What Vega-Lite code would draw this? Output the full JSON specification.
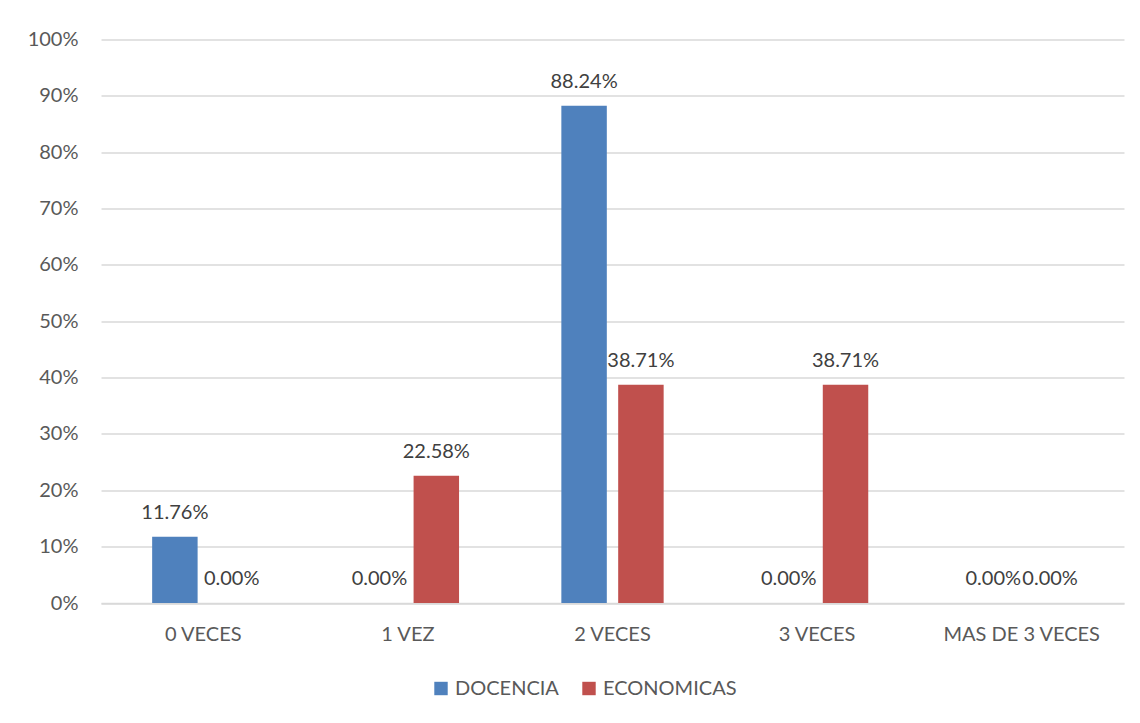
{
  "$schema": "https://vega.github.io/schema/vega-lite/v6.json",
  "autosize": "none",
  "width": 1023,
  "height": 563.5,
  "padding": {"left": 101, "top": 39.5, "right": 16, "bottom": 120},
  "background": "white",
  "config": {
    "font": "Lato",
    "view": {"stroke": null},
    "axis": {"labelFont": "Lato", "labelColor": "#595959", "labelFontSize": 20}
  },
  "data": {
    "values": [
      {"cat": "0 VECES", "serie": "DOCENCIA", "pct": 0.1176},
      {"cat": "0 VECES", "serie": "ECONOMICAS", "pct": 0.0},
      {"cat": "1 VEZ", "serie": "DOCENCIA", "pct": 0.0},
      {"cat": "1 VEZ", "serie": "ECONOMICAS", "pct": 0.2258},
      {"cat": "2 VECES", "serie": "DOCENCIA", "pct": 0.8824},
      {"cat": "2 VECES", "serie": "ECONOMICAS", "pct": 0.3871},
      {"cat": "3 VECES", "serie": "DOCENCIA", "pct": 0.0},
      {"cat": "3 VECES", "serie": "ECONOMICAS", "pct": 0.3871},
      {"cat": "MAS DE 3 VECES", "serie": "DOCENCIA", "pct": 0.0},
      {"cat": "MAS DE 3 VECES", "serie": "ECONOMICAS", "pct": 0.0}
    ]
  },
  "encoding": {
    "x": {
      "field": "cat",
      "type": "nominal",
      "sort": null,
      "scale": {"paddingInner": 0.5, "paddingOuter": 0.25},
      "axis": {
        "title": null,
        "labelAngle": 0,
        "labelPadding": 21,
        "labelOverlap": false,
        "ticks": false,
        "domain": true,
        "domainColor": "#D9D9D9",
        "domainWidth": 1.5
      }
    },
    "xOffset": {
      "field": "serie",
      "type": "nominal",
      "scale": {"paddingInner": 0.2, "paddingOuter": 0}
    },
    "y": {
      "field": "pct",
      "type": "quantitative",
      "scale": {"domain": [0, 1], "nice": false},
      "axis": {
        "title": null,
        "format": ".0%",
        "values": [0, 0.1, 0.2, 0.3, 0.4, 0.5, 0.6, 0.7, 0.8, 0.9, 1],
        "labelOverlap": false,
        "ticks": false,
        "domain": false,
        "grid": true,
        "gridColor": "#D9D9D9",
        "gridWidth": 1.5,
        "labelPadding": 23
      }
    }
  },
  "layer": [
    {
      "mark": {"type": "bar"},
      "encoding": {
        "color": {
          "field": "serie",
          "type": "nominal",
          "scale": {"domain": ["DOCENCIA", "ECONOMICAS"], "range": ["#4F81BD", "#C0504D"]},
          "legend": {
            "title": null,
            "orient": "none",
            "direction": "horizontal",
            "legendX": 330,
            "legendY": 639,
            "symbolType": "square",
            "symbolSize": 180,
            "symbolStrokeWidth": 0,
            "labelFont": "Lato",
            "labelFontSize": 20,
            "labelColor": "#595959",
            "labelOffset": 4,
            "columnPadding": 20
          }
        }
      }
    },
    {
      "mark": {
        "type": "text",
        "baseline": "alphabetic",
        "dy": -18,
        "font": "Lato",
        "fontSize": 20,
        "color": "#404040"
      },
      "encoding": {
        "text": {"field": "pct", "type": "quantitative", "format": ".2%"}
      }
    }
  ]
}
